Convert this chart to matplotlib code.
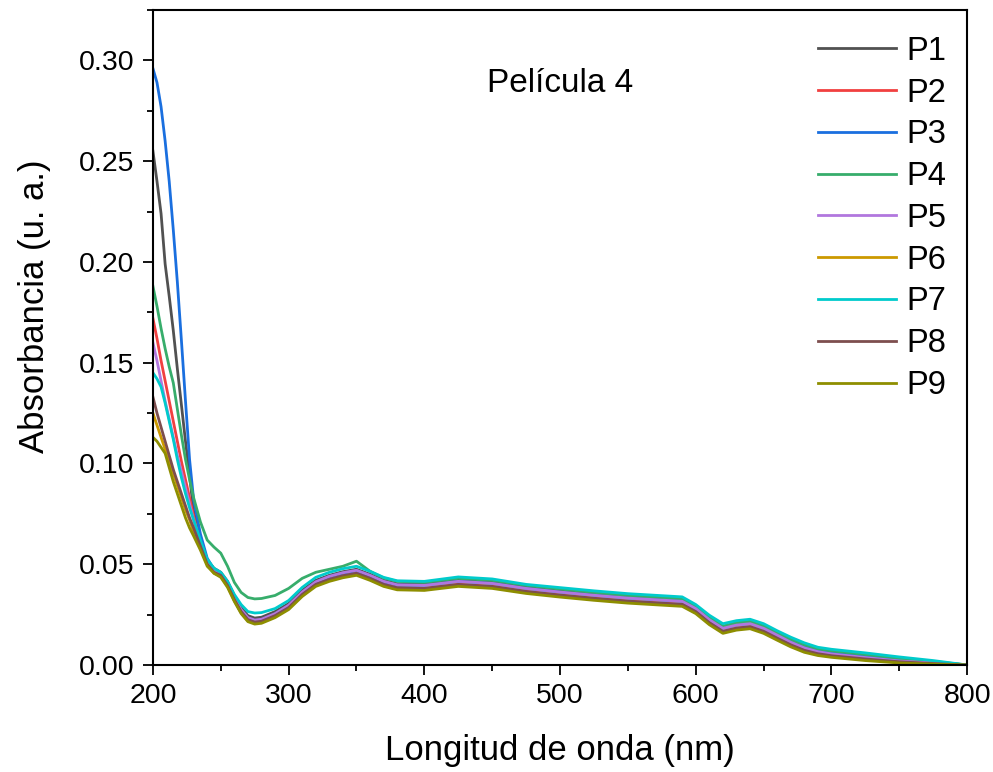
import matplotlib
matplotlib.use("Agg")
import matplotlib.pyplot as plt
from matplotlib.ticker import MultipleLocator

plt.rcParams['font.family'] = ['Liberation Sans', 'DejaVu Sans']

# wavelength grid (nm)
wl = [200, 203, 206, 209, 212, 215, 218, 221, 224, 227,
      230, 235, 240, 245, 250, 255, 260, 265, 270, 275, 280, 290, 300, 310, 320,
      330, 340, 350, 360, 370, 380, 400, 425, 450, 475, 500, 525, 550, 575, 590,
      600, 610, 620, 630, 640, 650, 660, 670, 680, 690, 700, 725, 750, 775, 800]

p1 = [.255, .240, .224, .199, .183, .166, .147, .129, .111, .094,
      .076, .062, .052, .048, .046, .0415, .0345, .0285, .0245, .0233, .0237, .0265, .0305, .037, .042,
      .0445, .0463, .0475, .045, .042, .0403, .040, .042, .041, .0385, .0367, .0351, .0337, .0327, .0321,
      .0285, .023, .0187, .0203, .021, .0187, .0153, .012, .0093, .0075, .0065, .0048, .003, .0016, 0.0]
p2 = [.172, .162, .151, .141, .131, .121, .111, .101, .092, .083,
      .074, .060, .0505, .0465, .0445, .0395, .0325, .0265, .0225, .0213, .0217, .0245, .0285, .035, .040,
      .0425, .0443, .0455, .043, .040, .0383, .038, .040, .039, .0365, .0347, .0331, .0317, .0307, .0301,
      .0265, .021, .0167, .0183, .019, .0167, .0133, .010, .0073, .0055, .0045, .0028, .0014, .0006, 0.0]
p3 = [.296, .289, .277, .260, .240, .216, .190, .161, .131, .102,
      .082, .065, .053, .0475, .0455, .040, .032, .026, .022, .0208, .0212, .0245, .029, .036, .041,
      .0438, .0456, .0468, .0443, .0413, .0396, .0395, .0415, .0405, .038, .0362, .0346, .0332, .0322, .0316,
      .028, .0225, .0182, .0198, .0205, .0182, .0148, .0115, .0088, .007, .006, .0043, .0026, .0013, 0.0]
p4 = [.188, .178, .167, .157, .148, .140, .127, .114, .102, .092,
      .083, .071, .062, .0585, .0555, .049, .041, .036, .0335, .0328, .033, .0345, .038, .043, .046,
      .0475, .049, .0515, .0465, .0432, .0415, .041, .043, .042, .0395, .0377, .036, .0345, .0335, .0329,
      .0293, .0237, .0193, .021, .0217, .0194, .016, .0127, .010, .008, .007, .0052, .0033, .0018, 0.0]
p5 = [.160, .151, .141, .131, .122, .113, .104, .096, .088, .080,
      .072, .0605, .0515, .047, .045, .0405, .0335, .0275, .0235, .0223, .0227, .0255, .0297, .0362, .0413,
      .044, .0458, .047, .0445, .0415, .0398, .0395, .0415, .0405, .038, .0362, .0346, .0332, .0322, .0316,
      .028, .0225, .0182, .0198, .0205, .0182, .0148, .0113, .0085, .0066, .0055, .0037, .002, .001, 0.0]
p6 = [.125, .119, .113, .107, .101, .095, .089, .083, .077, .072,
      .066, .058, .050, .0455, .044, .039, .032, .026, .022, .0208, .0212, .024, .028, .0345, .0395,
      .042, .0438, .045, .0425, .0395, .0378, .0375, .0395, .0385, .036, .0342, .0326, .0312, .0302, .0296,
      .026, .0205, .0162, .0178, .0185, .0162, .0128, .0095, .0068, .0052, .0043, .0026, .0013, .0005, 0.0]
p7 = [.145, .142, .138, .130, .121, .112, .102, .093, .085, .078,
      .072, .062, .0525, .048, .046, .0415, .035, .030, .0265, .0258, .026, .028, .032, .0385, .0435,
      .046, .0478, .049, .0465, .0435, .0418, .0415, .0437, .0427, .040, .0384, .0368, .0354, .0344, .0338,
      .030, .0247, .0205, .022, .0227, .0205, .017, .0138, .011, .0088, .0078, .006, .004, .0022, 0.0]
p8 = [.133, .125, .118, .111, .104, .097, .091, .085, .079, .073,
      .068, .059, .050, .046, .0445, .0395, .0325, .0265, .0225, .0213, .0217, .0245, .0285, .035, .040,
      .0425, .0443, .0455, .043, .040, .0383, .038, .040, .039, .0365, .0347, .0331, .0317, .0307, .0301,
      .0265, .021, .0167, .0183, .019, .0167, .0133, .010, .0073, .0056, .0046, .003, .0016, .0007, 0.0]
p9 = [.113, .111, .108, .105, .098, .091, .085, .079, .073, .068,
      .064, .057, .049, .0455, .0435, .0385, .0315, .0255, .0215, .0203, .0207, .0235, .0275, .034, .039,
      .0415, .0433, .0445, .042, .039, .0373, .037, .039, .038, .0355, .0337, .0321, .0307, .0297, .0291,
      .0255, .020, .0157, .0173, .018, .0157, .0123, .009, .0063, .0047, .0038, .0022, .001, .0004, 0.0]

labels = ['P1', 'P2', 'P3', 'P4', 'P5', 'P6', 'P7', 'P8', 'P9']
series = [p1, p2, p3, p4, p5, p6, p7, p8, p9]
colors = ['#515151', '#F14040', '#1A6FDF', '#37AD6B', '#B177DE',
          '#CC9900', '#00CBCC', '#7D4E4E', '#8E8E00']

fig = plt.figure(figsize=(9.93, 7.72), dpi=100)
ax = fig.add_axes([0.154, 0.1386, 0.82, 0.8484])

for y, lab, c in zip(series, labels, colors):
    ax.plot(wl, y, color=c, lw=2.0, label=lab)

ax.set_xlim(200, 800)
ax.set_ylim(0, 0.325)
ax.xaxis.set_major_locator(MultipleLocator(100))
ax.xaxis.set_minor_locator(MultipleLocator(50))
ax.yaxis.set_major_locator(MultipleLocator(0.05))
ax.yaxis.set_minor_locator(MultipleLocator(0.025))
ax.yaxis.set_major_formatter(matplotlib.ticker.FormatStrFormatter('%.2f'))

for s in ax.spines.values():
    s.set_linewidth(1.5)
ax.tick_params(which='major', direction='out', length=7, width=1.3, labelsize=20.5, pad=6)
ax.tick_params(which='minor', direction='out', length=4, width=1.3)

ax.set_xlabel('Longitud de onda (nm)', fontsize=25, labelpad=18)
ax.set_ylabel('Absorbancia (u. a.)', fontsize=25)
ax.yaxis.set_label_coords(-0.125, 0.548)

ax.text(0.41, 0.888, 'Película 4', transform=ax.transAxes, fontsize=24,
        ha='left', va='center')

ax.legend(loc='upper right', bbox_to_anchor=(0.990, 0.9806), borderaxespad=0,
          frameon=False, fontsize=23.5, handlelength=2.4,
          handletextpad=0.3, labelspacing=0.33)

fig.savefig('out.png', dpi=100)
